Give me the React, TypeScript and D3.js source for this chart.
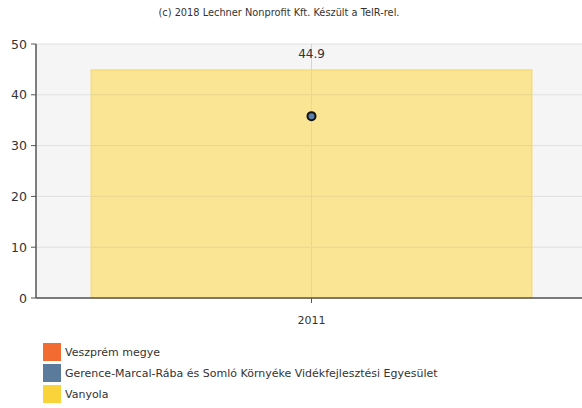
import React from "react";
import * as d3 from "d3";

const categories = ["2011"];
const barValues = [44.9]; // Vanyola
const pointValues = [35.8]; // Gerence-Marcal-Rába és Somló Környéke Vidékfejlesztési Egyesület
const yTicks = [0, 10, 20, 30, 40, 50];
const legendLabels = [
  "Veszprém megye",
  "Gerence-Marcal-Rába és Somló Környéke Vidékfejlesztési Egyesület",
  "Vanyola",
];
const legendColors = ["#f26b30", "#5b7b9c", "#f8d43a"];

const W = 582;
const H = 408;
const left = 36;
const right = 587;
const top = 44;
const bottom = 298;
const font = "Verdana, 'DejaVu Sans', sans-serif";

export default function App() {
  const x = d3.scaleBand<string>().domain(categories).range([left, right]).paddingInner(0.2).paddingOuter(0.1);
  const y = d3.scaleLinear().domain([0, 50]).range([bottom, top]);
  const bw = x.bandwidth();
  return (
    <svg width={W} height={H} style={{ position: "absolute", left: 0, top: 0 }}>
      <rect x={0} y={0} width={W} height={H} fill="#ffffff" />
      <text x={279} y={16} textAnchor="middle" fontFamily={font} fontSize={9.8} fill="#333">
        (c) 2018 Lechner Nonprofit Kft. Készült a TeIR-rel.
      </text>
      <rect x={left} y={top} width={W - left} height={bottom - top} fill="#f5f5f5" />
      {yTicks.map((t) => (
        <line key={"g" + t} x1={left} x2={W} y1={y(t)} y2={y(t)} stroke="#e0e0e0" strokeWidth={1} />
      ))}
      {categories.map((c, i) => (
        <rect
          key={"b" + c}
          x={x(c)!}
          y={y(barValues[i])}
          width={bw}
          height={bottom - y(barValues[i])}
          fill="#f9e594"
          stroke="#f5d766"
          strokeWidth={1}
        />
      ))}
      {categories.map((c, i) =>
        yTicks
          .filter((t) => t > 0 && t < barValues[i])
          .map((t) => (
            <line
              key={"bg" + t + c}
              x1={x(c)!}
              x2={x(c)! + bw}
              y1={y(t)}
              y2={y(t)}
              stroke="#e9d690"
              strokeWidth={1}
            />
          ))
      )}
      {categories.map((c) => (
        <line
          key={"vg" + c}
          x1={x(c)! + bw / 2}
          x2={x(c)! + bw / 2}
          y1={top}
          y2={bottom}
          stroke="#e9d690"
        />
      ))}
      {categories.map((c, i) => (
        <text
          key={"l" + c}
          x={x(c)! + bw / 2}
          y={y(barValues[i]) - 12}
          textAnchor="middle"
          fontFamily={font}
          fontSize={12}
          fill="#333"
        >
          {barValues[i]}
        </text>
      ))}
      {categories.map((c, i) => (
        <circle
          key={"p" + c}
          cx={x(c)! + bw / 2}
          cy={y(pointValues[i])}
          r={4}
          fill="#5b7ea8"
          stroke="#111"
          strokeWidth={2}
        />
      ))}
      <line x1={left} x2={left} y1={top} y2={bottom} stroke="#555" strokeWidth={1.5} />
      <line x1={left} x2={W} y1={bottom} y2={bottom} stroke="#555" strokeWidth={1.5} />
      {yTicks.map((t) => (
        <g key={"t" + t}>
          <line x1={left - 5} x2={left} y1={y(t)} y2={y(t)} stroke="#555" />
          <text x={left - 9} y={y(t) + 4.5} textAnchor="end" fontFamily={font} fontSize={12.5} fill="#333">
            {t}
          </text>
        </g>
      ))}
      {categories.map((c) => (
        <g key={"xt" + c}>
          <line x1={x(c)! + bw / 2} x2={x(c)! + bw / 2} y1={bottom} y2={bottom + 5} stroke="#555" />
          <text x={x(c)! + bw / 2} y={bottom + 26} textAnchor="middle" fontFamily={font} fontSize={11} fill="#333">
            {c}
          </text>
        </g>
      ))}
      {legendLabels.map((l, i) => (
        <g key={"lg" + i}>
          <rect x={43} y={343 + i * 21} width={18} height={18} fill={legendColors[i]} />
          <text x={65} y={356 + i * 21} fontFamily={font} fontSize={11} fill="#333">
            {l}
          </text>
        </g>
      ))}
    </svg>
  );
}
